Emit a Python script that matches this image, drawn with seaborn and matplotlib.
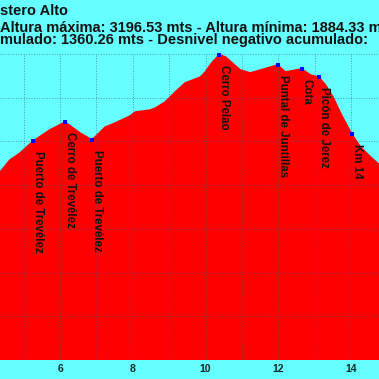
import matplotlib
matplotlib.use("Agg")
import matplotlib.pyplot as plt
import seaborn as sns
import pandas as pd

# === Perfil (km, altitud en m) ===
km = [4.35, 4.62, 4.90, 5.26, 5.72, 6.14, 6.55, 6.88, 7.24, 7.52, 7.93, 8.07,
      8.48, 8.62, 8.89, 9.17, 9.44, 9.72, 9.86, 9.99, 10.19, 10.38, 10.55,
      10.74, 10.96, 11.23, 11.51, 11.79, 11.98, 12.20, 12.47, 12.64, 12.89,
      13.11, 13.30, 13.52, 13.71, 14.02, 14.26, 14.54, 14.79]
altura = [2660, 2715, 2747, 2802, 2853, 2889, 2839, 2807, 2866, 2885, 2917, 2935,
          2944, 2953, 2981, 3027, 3068, 3086, 3095, 3118, 3164, 3196.53, 3187,
          3159, 3127, 3114, 3127, 3141, 3150, 3118, 3127, 3132, 3104,
          3095, 3059, 2999, 2931, 2834, 2775, 2729, 2692]

# === Puntos de paso ===
wp_nombre = ["Puerto de Trevélez", "Cerro de Trevélez", "Puerto de Trevélez",
             "Cerro Pelao", "Puntal de Juntillas", "Cota", "Picón de Jerez", "Km 14"]
wp_km = [5.26, 6.14, 6.88, 10.38, 11.98, 12.64, 13.11, 14.02]
wp_alt = [2802, 2889, 2807, 3196.53, 3150, 3132, 3095, 2834]

titulo = ["stero Alto",
          "Altura máxima: 3196.53 mts - Altura mínima: 1884.33 mts",
          "mulado: 1360.26 mts - Desnivel negativo acumulado:"]

perfil = pd.DataFrame({"km": km, "altura": altura})
puntos = pd.DataFrame({"km": wp_km, "altura": wp_alt, "nombre": wp_nombre})

CYAN = "#66ffff"
ROJO = "#ff0000"

sns.set_style("white")
plt.rcParams["font.family"] = ["Liberation Sans", "DejaVu Sans"]

fig = plt.figure(figsize=(3.79, 3.79), dpi=100, facecolor=CYAN)
ax = fig.add_axes([0, 19 / 379, 1, (379 - 54 - 19) / 379])
ax.set_facecolor(CYAN)

ax.fill_between(perfil["km"], perfil["altura"], 1800, color=ROJO, lw=0, zorder=1)
sns.lineplot(data=perfil, x="km", y="altura", color=ROJO, lw=1, ax=ax, zorder=1)
sns.scatterplot(data=puntos, x="km", y="altura", color="#0000ff", marker="s",
                s=5, linewidth=0, ax=ax, zorder=5, clip_on=False)

for _, r in puntos.iterrows():
    ax.annotate(r["nombre"], (r["km"], r["altura"]), xytext=(-1, -10),
                textcoords="offset pixels", rotation=-90, ha="left", va="top",
                fontsize=8.3, fontweight="bold", color="#111111", zorder=6)

ax.set_xlim(4.35, 14.77)
ax.set_ylim(1800, 3200)
ax.set_xticks(range(5, 15))
ax.set_xticklabels([str(k) if k % 2 == 0 else "" for k in range(5, 15)],
                   fontsize=7.5, fontweight="bold", color="#102828")
ax.set_yticks(range(1800, 3201, 200))
ax.set_yticklabels([])
ax.tick_params(length=0, pad=3)
ax.set_xlabel("")
ax.set_ylabel("")
ax.set_axisbelow(False)
ax.grid(True, color="#40509a", linestyle=":", linewidth=0.7, alpha=0.6)
for s in ax.spines.values():
    s.set_visible(False)

for txt, y in zip(titulo, [15, 31.5, 44]):
    fig.text(0.0, 1 - y / 379, txt, ha="left", va="baseline",
             fontsize=10.5, fontweight="bold", color="#111111")

fig.savefig("out.png", dpi=100, facecolor=CYAN)
